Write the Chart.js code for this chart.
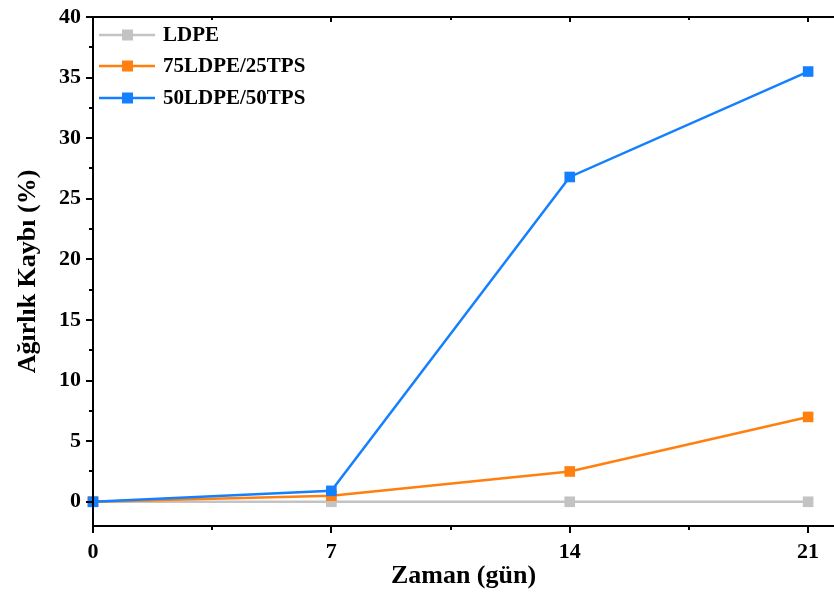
<!DOCTYPE html>
<html>
<head>
<meta charset="utf-8">
<script src="https://cdn.jsdelivr.net/npm/chart.js@4.4.1/dist/chart.umd.min.js"></script>
<style>
  html, body { margin: 0; padding: 0; background: #fff; overflow: hidden; }
</style>
</head>
<body>
<canvas id="myChart" width="834" height="592"></canvas>
<script>
// data
const days = [0, 7, 14, 21];
const ldpe = [0, 0, 0, 0];
const ldpe75 = [0, 0.5, 2.5, 7.0];
const ldpe50 = [0, 0.9, 26.8, 35.5];
const xTicks = [0, 7, 14, 21];
const yTicks = [0, 5, 10, 15, 20, 25, 30, 35, 40];

const seriesNames = ['LDPE', '75LDPE/25TPS', '50LDPE/50TPS'];
const seriesColors = ['#c3c3c3', '#ff7f0f', '#1480ff'];
const serif = '"Liberation Serif", "Times New Roman", serif';

function toPoints(vals) {
    return days.map((d, i) => ({ x: d, y: vals[i] }));
}

function makeSet(idx, vals, order) {
    return {
        label: seriesNames[idx],
        data: toPoints(vals),
        borderColor: seriesColors[idx],
        backgroundColor: seriesColors[idx],
        borderWidth: 2.5,
        pointStyle: 'rect',
        pointRadius: 7.5,
        pointHoverRadius: 7.5,
        pointBorderWidth: 0,
        tension: 0,
        clip: false,
        order: order
    };
}

// axes frame, ticks and legend drawn by hand
const framePlugin = {
    id: 'frame',
    afterDraw(chart) {
        const c = chart.ctx;
        const a = chart.chartArea;
        const xs = chart.scales.x, ys = chart.scales.y;
        c.save();
        c.strokeStyle = '#000';
        c.lineWidth = 2;
        c.beginPath();
        c.moveTo(a.left, a.top); c.lineTo(a.left, a.bottom);
        c.moveTo(a.left - 1, a.bottom); c.lineTo(a.right, a.bottom);
        c.moveTo(a.left - 1, a.top); c.lineTo(a.right, a.top);
        c.stroke();

        c.beginPath();
        for (let v = 0; v <= 21; v += 3.5) {
            const px = Math.round(xs.getPixelForValue(v));
            const major = v % 7 === 0;
            c.moveTo(px, a.bottom); c.lineTo(px, a.bottom + (major ? 7 : 4));
            c.moveTo(px, a.top); c.lineTo(px, a.top + (major ? 5 : 3));
        }
        for (let v = 0; v <= 40; v += 2.5) {
            const py = Math.round(ys.getPixelForValue(v));
            const major = v % 5 === 0;
            c.moveTo(a.left, py); c.lineTo(a.left - (major ? 7 : 4), py);
        }
        c.stroke();

        // legend
        c.font = 'bold 21px ' + serif;
        c.textBaseline = 'middle';
        const rows = [35, 66, 98];
        seriesNames.forEach((name, i) => {
            const y = rows[i];
            c.strokeStyle = seriesColors[i];
            c.lineWidth = 2.5;
            c.beginPath();
            c.moveTo(99, y); c.lineTo(155, y);
            c.stroke();
            c.fillStyle = seriesColors[i];
            c.fillRect(122, y - 5.5, 11, 11);
            c.fillStyle = '#000';
            c.fillText(name, 163, y + 1);
        });
        c.restore();
    }
};

const ctx = document.getElementById('myChart').getContext('2d');
const myChart = new Chart(ctx, {
    type: 'line',
    data: {
        datasets: [
            makeSet(0, ldpe, 3),
            makeSet(1, ldpe75, 2),
            makeSet(2, ldpe50, 1)
        ]
    },
    options: {
        responsive: false,
        animation: false,
        layout: { autoPadding: false, padding: { top: 17, right: 0, left: 0, bottom: 0 } },
        plugins: {
            legend: { display: false },
            tooltip: { enabled: false }
        },
        scales: {
            x: {
                type: 'linear',
                min: 0,
                max: 21.76,
                afterBuildTicks: s => { s.ticks = xTicks.map(v => ({ value: v })); },
                afterFit: s => { s.height = 66; s.paddingLeft = 0; s.paddingRight = 0; },
                grid: { display: false },
                border: { display: false },
                ticks: {
                    color: '#000',
                    padding: 5,
                    maxRotation: 0,
                    font: { family: serif, size: 22, weight: 'bold' }
                },
                title: {
                    display: true,
                    text: 'Zaman (gün)',
                    color: '#000',
                    padding: { top: 3, bottom: 0 },
                    font: { family: serif, size: 26, weight: 'bold' }
                }
            },
            y: {
                min: -2,
                max: 40,
                afterBuildTicks: s => { s.ticks = yTicks.map(v => ({ value: v })); },
                afterFit: s => { s.width = 93; s.paddingTop = 0; s.paddingBottom = 0; },
                grid: { display: false },
                border: { display: false },
                ticks: {
                    color: '#000',
                    padding: 4,
                    font: { family: serif, size: 22, weight: 'bold' }
                },
                title: {
                    display: true,
                    text: 'Ağırlık Kaybı (%)',
                    color: '#000',
                    padding: { top: 13, bottom: 0 },
                    font: { family: serif, size: 26, weight: 'bold' }
                }
            }
        }
    },
    plugins: [framePlugin]
});
</script>
</body>
</html>
